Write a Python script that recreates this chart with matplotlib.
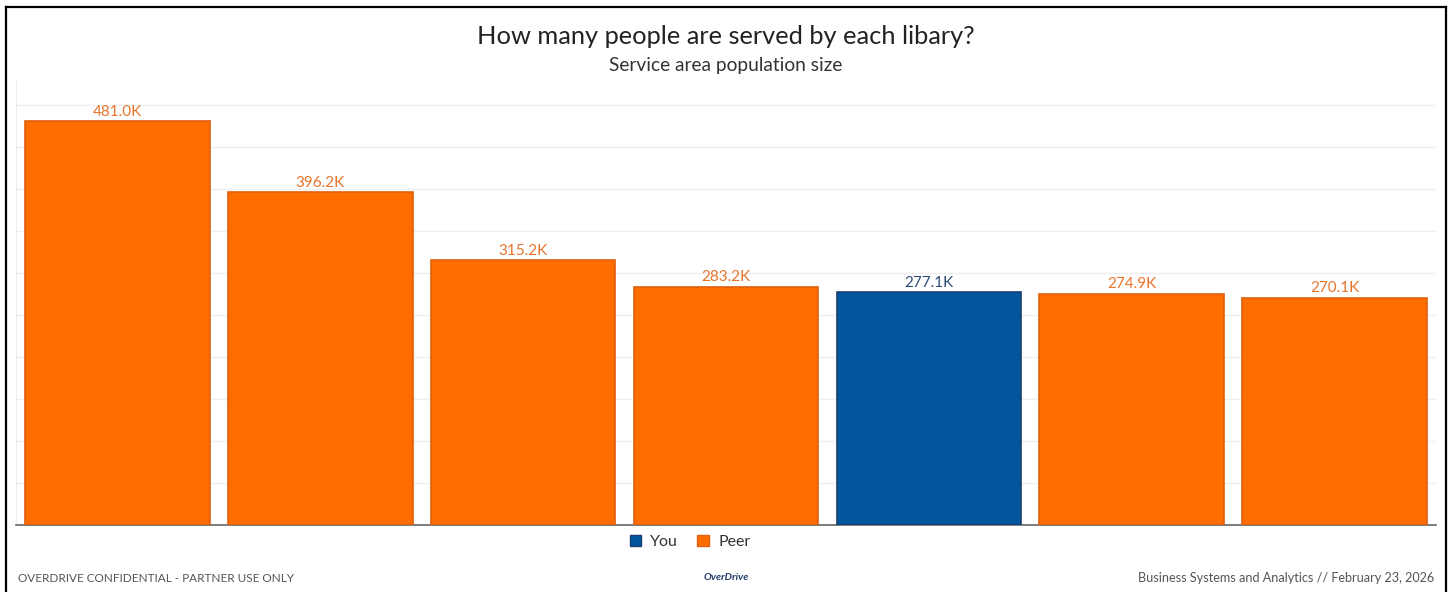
import matplotlib.pyplot as plt
from matplotlib.lines import Line2D
from matplotlib.patches import Patch

plt.rcParams['font.family'] = ['Lato', 'DejaVu Sans']

# values in thousands, sorted as shown
values = [481.0, 396.2, 315.2, 283.2, 277.1, 274.9, 270.1]
groups = ['Peer', 'Peer', 'Peer', 'Peer', 'You', 'Peer', 'Peer']
labels = ['481.0K', '396.2K', '315.2K', '283.2K', '277.1K', '274.9K', '270.1K']

fill = {'You': '#02569c', 'Peer': '#ff6d00'}
edge = {'You': '#1c3f72', 'Peer': '#e2600c'}
text_col = {'You': '#2c4b78', 'Peer': '#e8742c'}

W, H = 1448, 592
fig = plt.figure(figsize=(W / 100, H / 100), dpi=100)
ax = fig.add_axes([16 / W, (H - 524.5) / H, (1436 - 16) / W, (524.5 - 80) / H])

x = list(range(len(values)))
ax.bar(x, values, width=0.91,
       color=[fill[g] for g in groups],
       edgecolor=[edge[g] for g in groups], linewidth=1.2, zorder=3)
for xi, v, lab, g in zip(x, values, labels, groups):
    ax.text(xi, v + 3, lab, ha='center', va='bottom', fontsize=11,
            color=text_col[g], zorder=4)

ax.set_xlim(-0.5, len(values) - 0.5)
ax.set_ylim(0, 530)
ax.set_yticks([50 * i for i in range(1, 11)])
ax.yaxis.grid(True, color='#efefef', linewidth=1, zorder=0)
ax.tick_params(left=False, bottom=False, labelleft=False, labelbottom=False)
for s in ['top', 'right']:
    ax.spines[s].set_visible(False)
ax.spines['left'].set_color('#eeeeee')
ax.spines['bottom'].set_color('#666666')
ax.spines['bottom'].set_linewidth(1.2)

fig.text(726 / W, 1 - 36 / H, 'How many people are served by each libary?',
         ha='center', va='center', fontsize=18.3, color='#222222')
fig.text(726 / W, 1 - 65 / H, 'Service area population size',
         ha='center', va='center', fontsize=13.8, color='#333333')

handles = [Patch(facecolor=fill['You'], edgecolor=edge['You']),
           Patch(facecolor=fill['Peer'], edgecolor=edge['Peer'])]
fig.legend(handles, ['You', 'Peer'], loc='center', bbox_to_anchor=(690 / W, 1 - 542 / H),
           ncol=2, frameon=False, fontsize=11.5, handlelength=0.7, handleheight=0.7,
           handletextpad=0.6, columnspacing=1.2, labelcolor='#333333')

fig.text(18 / W, 1 - 578 / H, 'OVERDRIVE CONFIDENTIAL - PARTNER USE ONLY',
         ha='left', va='center', fontsize=8.5, color='#555555')
fig.text(1434 / W, 1 - 578 / H, 'Business Systems and Analytics // February 23, 2026',
         ha='right', va='center', fontsize=9.1, color='#555555')
fig.text(726 / W, 1 - 578 / H, 'OverDrive', ha='center', va='center', fontsize=7.5,
         color='#1d3a66', fontweight='bold', style='italic')

# outer frame
frame = dict(color='black', linewidth=1.6, transform=fig.transFigure)
fig.add_artist(Line2D([5.5 / W, 5.5 / W], [0, 1 - 6.5 / H], **frame))
fig.add_artist(Line2D([5.5 / W, 1445.5 / W], [1 - 6.5 / H, 1 - 6.5 / H], **frame))
fig.add_artist(Line2D([1445.5 / W, 1445.5 / W], [0, 1 - 6.5 / H], **frame))

fig.savefig('out.png', dpi=100)
